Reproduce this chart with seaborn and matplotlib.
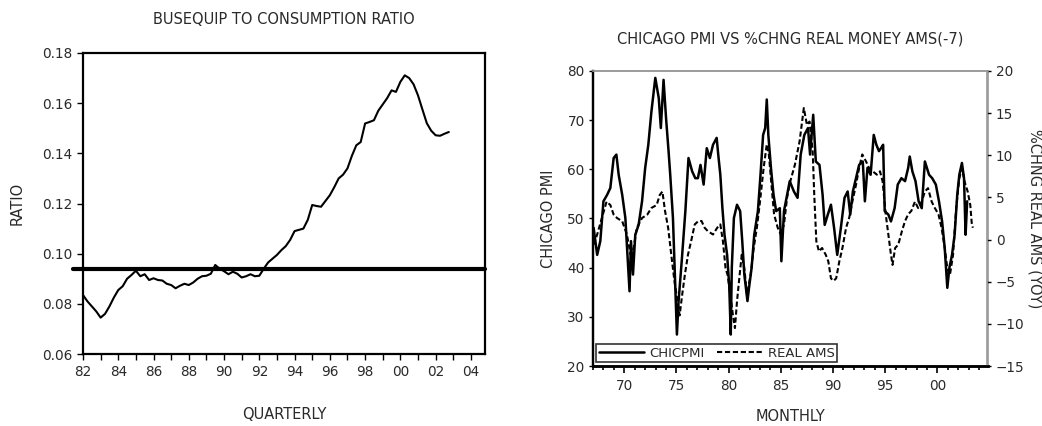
import numpy as np
import pandas as pd
import matplotlib
matplotlib.use("Agg")
import matplotlib.pyplot as plt
import seaborn as sns
from matplotlib.ticker import FixedLocator, FuncFormatter

sns.set_style("ticks")
plt.rcParams["font.family"] = ["DejaVu Sans"]

# ---------------- Left chart data (quarterly, from 1982Q1) ----------------
RATIO_START = 1982.0
RATIO = [
    0.0835, 0.0810, 0.0790, 0.0770,   # 1982
    0.0745, 0.0760, 0.0790, 0.0825,   # 1983
    0.0855, 0.0870, 0.0900, 0.0915,   # 1984
    0.0932, 0.0910, 0.0918, 0.0895,   # 1985
    0.0902, 0.0895, 0.0893, 0.0880,   # 1986
    0.0875, 0.0862, 0.0872, 0.0880,   # 1987
    0.0875, 0.0885, 0.0900, 0.0910,   # 1988
    0.0912, 0.0920, 0.0955, 0.0940,   # 1989
    0.0930, 0.0918, 0.0928, 0.0920,   # 1990
    0.0905, 0.0910, 0.0918, 0.0910,   # 1991
    0.0912, 0.0940, 0.0965, 0.0980,   # 1992
    0.0995, 0.1014, 0.1030, 0.1055,   # 1993
    0.1090, 0.1095, 0.1100, 0.1135,   # 1994
    0.1194, 0.1190, 0.1187, 0.1210,   # 1995
    0.1233, 0.1265, 0.1300, 0.1315,   # 1996
    0.1340, 0.1390, 0.1432, 0.1445,   # 1997
    0.1519, 0.1525, 0.1532, 0.1570,   # 1998
    0.1595, 0.1620, 0.1651, 0.1645,   # 1999
    0.1685, 0.1711, 0.1700, 0.1675,   # 2000
    0.1631, 0.1575, 0.1520, 0.1490,   # 2001
    0.1472, 0.1470, 0.1478, 0.1485,   # 2002
]
RATIO_MEAN = 0.0937
RATIO_XTICKS = [1982, 1984, 1986, 1988, 1990, 1992, 1994, 1996, 1998, 2000, 2002, 2004]
RATIO_XLABELS = ["82", "84", "86", "88", "90", "92", "94", "96", "98", "00", "02", "04"]
RATIO_YTICKS = [0.06, 0.08, 0.10, 0.12, 0.14, 0.16, 0.18]

# ---------------- Right chart data ----------------
PMI_YEAR = [
    1967.06, 1967.4, 1967.7, 1968.0, 1968.35, 1968.66, 1968.98, 1969.24, 1969.46, 1969.8,
    1970.1, 1970.3, 1970.5, 1970.64, 1970.83, 1971.05, 1971.37, 1971.7, 1972.0, 1972.3,
    1972.6, 1972.97, 1973.3, 1973.5, 1973.76, 1974.0, 1974.24, 1974.4, 1974.66, 1974.88,
    1975.04, 1975.2, 1975.5, 1975.85, 1976.15, 1976.5, 1976.8, 1977.05, 1977.3, 1977.6,
    1977.9, 1978.2, 1978.5, 1978.85, 1979.0, 1979.2, 1979.4, 1979.6, 1979.85, 1980.05,
    1980.2, 1980.3, 1980.5, 1980.8, 1981.1, 1981.3, 1981.5, 1981.8, 1981.95, 1982.2,
    1982.45, 1982.8, 1983.05, 1983.3, 1983.5, 1983.65, 1983.8, 1984.05, 1984.3, 1984.55,
    1984.9, 1985.05, 1985.3, 1985.6, 1985.85, 1986.25, 1986.6, 1986.9, 1987.25, 1987.6,
    1987.8, 1988.1, 1988.35, 1988.7, 1989.0, 1989.2, 1989.5, 1989.8, 1990.1, 1990.4,
    1990.75, 1991.1, 1991.4, 1991.65, 1991.9, 1992.2, 1992.5, 1992.85, 1993.05, 1993.3,
    1993.6, 1993.9, 1994.15, 1994.4, 1994.6, 1994.8, 1994.95, 1995.3, 1995.55, 1995.9,
    1996.2, 1996.55, 1996.9, 1997.2, 1997.35, 1997.6, 1997.9, 1998.2, 1998.5, 1998.8,
    1999.2, 1999.5, 1999.85, 2000.15, 2000.45, 2000.7, 2000.95, 2001.15, 2001.4, 2001.65,
    2001.9, 2002.1, 2002.35, 2002.55, 2002.7, 2002.85,
]
PMI_VALUE = [
    48.1, 42.6, 45.4, 53.5, 54.8, 56.2, 62.3, 63.0, 58.9, 54.8,
    50.1, 42.6, 35.2, 45.4, 38.6, 46.7, 48.7, 53.5, 60.3, 65.0,
    71.8, 78.6, 74.5, 68.4, 78.2, 70.4, 63.7, 58.9, 50.1, 36.5,
    26.4, 33.2, 41.3, 51.5, 62.3, 59.6, 58.2, 58.2, 60.9, 56.9,
    64.3, 62.3, 65.0, 66.4, 63.0, 58.9, 52.1, 46.7, 42.6, 36.5,
    26.4, 40.0, 50.1, 52.8, 51.5, 45.4, 38.6, 33.2, 35.9, 40.0,
    46.7, 51.5, 58.9, 67.0, 68.4, 74.2, 67.0, 60.3, 54.8, 51.5,
    52.1, 41.3, 51.5, 54.8, 57.6, 55.5, 54.2, 63.0, 67.0, 68.4,
    63.0, 71.1, 61.6, 60.9, 54.8, 48.7, 50.8, 52.8, 48.1, 42.6,
    48.1, 54.2, 55.5, 50.8, 55.5, 58.2, 60.9, 61.6, 53.5, 60.3,
    58.9, 67.0, 65.0, 63.7, 64.3, 65.0, 51.5, 50.8, 49.4, 52.1,
    56.9, 58.2, 57.6, 60.3, 62.6, 59.6, 57.6, 53.5, 52.1, 61.6,
    58.9, 58.2, 56.9, 53.5, 49.4, 44.0, 35.9, 40.0, 42.6, 46.7,
    54.8, 58.9, 61.3, 58.2, 46.7, 53.5,
]
AMS_YEAR = [
    1967.06, 1967.4, 1967.85, 1968.3, 1968.66, 1968.98, 1969.3, 1969.8, 1970.25, 1970.6,
    1970.9, 1971.2, 1971.7, 1972.2, 1972.6, 1973.1, 1973.4, 1973.65, 1973.9, 1974.2,
    1974.5, 1974.8, 1975.05, 1975.3, 1975.55, 1975.8, 1976.1, 1976.4, 1976.75, 1977.1,
    1977.4, 1977.7, 1978.0, 1978.5, 1978.9, 1979.2, 1979.45, 1979.7, 1979.9, 1980.15,
    1980.4, 1980.6, 1980.8, 1981.05, 1981.25, 1981.5, 1981.75, 1982.1, 1982.4, 1982.7,
    1983.0, 1983.35, 1983.65, 1983.85, 1984.1, 1984.35, 1984.7, 1985.0, 1985.3, 1985.6,
    1985.9, 1986.35, 1986.8, 1987.2, 1987.5, 1987.75, 1988.05, 1988.2, 1988.4, 1988.65,
    1988.95, 1989.3, 1989.55, 1989.8, 1990.05, 1990.3, 1990.6, 1990.9, 1991.25, 1991.55,
    1991.85, 1992.2, 1992.5, 1992.8, 1993.15, 1993.45, 1993.8, 1994.2, 1994.5, 1994.75,
    1995.05, 1995.3, 1995.55, 1995.7, 1995.95, 1996.25, 1996.6, 1996.9, 1997.2, 1997.5,
    1997.85, 1998.15, 1998.5, 1998.8, 1999.1, 1999.45, 1999.75, 2000.1, 2000.4, 2000.7,
    2000.95, 2001.2, 2001.5, 2001.8, 2002.1, 2002.35, 2002.6, 2002.9, 2003.15, 2003.3,
    2003.4,
]
AMS_VALUE = [
    -0.6, 0.6, 2.56, 4.5, 4.1, 2.96, 2.56, 2.17, 0.6, -1.8,
    -1.0, 1.4, 2.56, 2.96, 3.75, 4.1, 5.3, 5.7, 3.4, 1.4,
    -1.8, -4.9, -6.9, -9.0, -6.5, -4.2, -1.8, -0.2, 1.8, 2.2,
    2.2, 1.4, 1.0, 0.6, 1.4, 1.8, -0.2, -3.4, -4.2, -6.5,
    -8.9, -10.5, -7.3, -4.2, -1.8, -3.4, -6.5, -4.2, -1.0, 1.4,
    4.5, 8.5, 11.3, 10.1, 6.5, 3.0, 1.4, 0.6, 1.8, 5.0,
    6.9, 8.9, 11.7, 15.6, 13.6, 14.0, 10.5, 5.3, -0.2, -1.4,
    -1.0, -1.8, -2.6, -4.6, -4.9, -4.6, -2.6, -1.0, 1.4, 2.6,
    4.5, 6.5, 8.5, 10.1, 9.3, 8.5, 8.1, 7.7, 8.1, 6.9,
    3.0, 0.6, -1.8, -3.0, -1.0, -0.6, 1.0, 2.2, 3.0, 3.4,
    4.5, 3.75, 4.5, 5.7, 6.1, 4.5, 3.75, 3.0, 1.4, -1.0,
    -3.4, -4.2, -1.8, 3.75, 7.3, 8.5, 6.9, 5.7, 4.1, 1.8,
    1.4,
]
PMI_XTICKS = [1970, 1975, 1980, 1985, 1990, 1995, 2000]
PMI_XLABELS = ["70", "75", "80", "85", "90", "95", "00"]
PMI_YTICKS = [20, 30, 40, 50, 60, 70, 80]
AMS_YTICKS = [-15, -10, -5, 0, 5, 10, 15, 20]

TXT = "#2a2a2a"
FS_TITLE = 10.5
FS_LABEL = 10.5
FS_TICK = 9.8

fig = plt.figure(figsize=(10.42, 4.26), dpi=100)
W, H = 1042.0, 426.0

# ================= LEFT CHART =================
ax1 = fig.add_axes([83 / W, 1 - 354 / H, 402 / W, 301 / H])
ratio_df = pd.DataFrame({
    "t": RATIO_START + 0.25 * np.arange(len(RATIO)),
    "ratio": RATIO,
})
sns.lineplot(data=ratio_df, x="t", y="ratio", ax=ax1, color="black", linewidth=1.5)
ax1.axhline(RATIO_MEAN, xmin=-0.025, xmax=1.0, color="black", linewidth=3.0, clip_on=False)
ax1.set_xlim(1982.0, 2004.8)
ax1.set_ylim(0.06, 0.18)
ax1.xaxis.set_major_locator(FixedLocator(RATIO_XTICKS))
ax1.set_xticklabels(RATIO_XLABELS)
ax1.xaxis.set_minor_locator(FixedLocator(list(range(1983, 2005, 2))))
ax1.yaxis.set_major_locator(FixedLocator(RATIO_YTICKS))
ax1.yaxis.set_major_formatter(FuncFormatter(lambda v, p: f"{v:.2f}"))
ax1.tick_params(axis="both", which="both", direction="out", length=4, width=1,
                colors="black", labelcolor=TXT, labelsize=FS_TICK, pad=4)
for s in ax1.spines.values():
    s.set_color("black")
    s.set_linewidth(1.6)
ax1.set_xlabel("QUARTERLY", fontsize=FS_LABEL, color=TXT, labelpad=20)
ax1.set_ylabel("RATIO", fontsize=FS_LABEL, color=TXT, labelpad=12)
fig.text(284 / W, 1 - 19.5 / H, "BUSEQUIP TO CONSUMPTION RATIO",
         ha="center", va="center", fontsize=FS_TITLE, color=TXT)

# ================= RIGHT CHART =================
ax2 = fig.add_axes([593 / W, 1 - 366 / H, 394.5 / W, 295 / H])
ax3 = ax2.twinx()
pmi_df = pd.DataFrame({"year": PMI_YEAR, "pmi": PMI_VALUE})
ams_df = pd.DataFrame({"year": AMS_YEAR, "ams": AMS_VALUE})
sns.lineplot(data=pmi_df, x="year", y="pmi", ax=ax2, color="black", linewidth=1.8,
             label="CHICPMI", legend=False)
sns.lineplot(data=ams_df, x="year", y="ams", ax=ax3, color="black", linewidth=1.5,
             linestyle=(0, (2.5, 1.3)), label="REAL AMS", legend=False)
ax2.set_xlim(1967.0, 2004.8)
ax2.set_ylim(20, 80)
ax3.set_ylim(-15, 20)
ax2.xaxis.set_major_locator(FixedLocator(PMI_XTICKS))
ax2.set_xticklabels(PMI_XLABELS)
ax2.xaxis.set_minor_locator(FixedLocator([y for y in range(1967, 2005) if y % 5 != 0]))
ax2.yaxis.set_major_locator(FixedLocator(PMI_YTICKS))
ax3.yaxis.set_major_locator(FixedLocator(AMS_YTICKS))
ax2.tick_params(axis="x", which="major", direction="out", length=5, width=1.2,
                colors="black", labelcolor=TXT, labelsize=FS_TICK, pad=4)
ax2.tick_params(axis="x", which="minor", direction="out", length=3, width=1.2, colors="black")
ax2.tick_params(axis="y", direction="out", length=3, width=1, colors="black",
                labelcolor=TXT, labelsize=FS_TICK, pad=3)
ax3.tick_params(axis="y", direction="out", length=3, width=1, colors="black",
                labelcolor=TXT, labelsize=FS_TICK, pad=3)
for a in (ax2, ax3):
    a.spines["left"].set_color("black")
    a.spines["left"].set_linewidth(1.6)
    a.spines["bottom"].set_color("black")
    a.spines["bottom"].set_linewidth(1.8)
    a.spines["top"].set_color("#9a9a9a")
    a.spines["top"].set_linewidth(1.2)
    a.spines["right"].set_color("#9a9a9a")
    a.spines["right"].set_linewidth(1.2)
ax2.set_xlabel("MONTHLY", fontsize=FS_LABEL, color=TXT, labelpad=12)
ax2.set_ylabel("CHICAGO PMI", fontsize=FS_LABEL, color=TXT, labelpad=8)
ax3.set_ylabel("%CHNG REAL AMS (YOY)", fontsize=FS_LABEL, color=TXT, rotation=270, labelpad=13)
ax3.set_xlabel("")
fig.text(790 / W, 1 - 39 / H, "CHICAGO PMI VS %CHNG REAL MONEY AMS(-7)",
         ha="center", va="center", fontsize=FS_TITLE, color=TXT)

h2, l2 = ax2.get_legend_handles_labels()
h3, l3 = ax3.get_legend_handles_labels()
leg = ax3.legend(h2 + h3, l2 + l3, loc="lower left", bbox_to_anchor=(0.008, 0.012),
                 ncol=2, frameon=True, fancybox=False, fontsize=9.5, handlelength=3.4,
                 handletextpad=0.4, columnspacing=1.0, borderpad=0.2, borderaxespad=0.0)
leg.get_frame().set_edgecolor("black")
leg.get_frame().set_linewidth(1.2)
for t in leg.get_texts():
    t.set_color(TXT)

fig.savefig("out.png", dpi=100)
